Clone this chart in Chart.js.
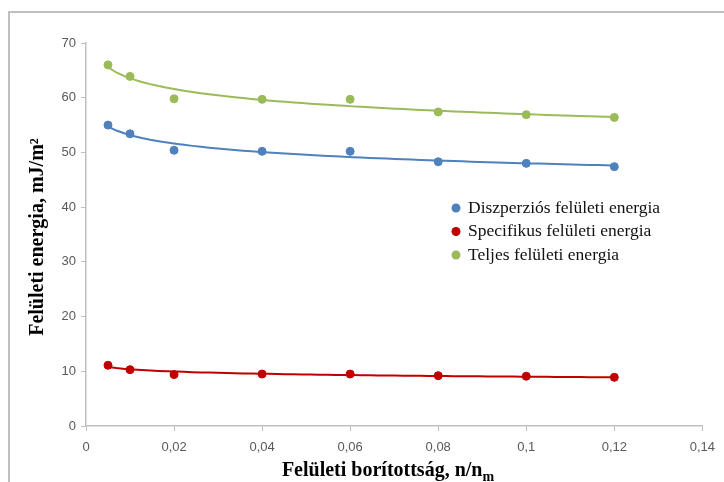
<!DOCTYPE html>
<html>
<head>
<meta charset="utf-8">
<script src="https://cdn.jsdelivr.net/npm/chart.js@4"></script>
<style>
  html, body { margin: 0; padding: 0; background: #fff; }
  #wrap { width: 724px; height: 482px; }
</style>
</head>
<body>
<div id="wrap"><canvas id="mychart"></canvas></div>
<script>
// coverage values (n/nm)
let coverage = [0.005, 0.01, 0.02, 0.04, 0.06, 0.08, 0.1, 0.12];
let dispersive = [55.0, 53.4, 50.4, 50.2, 50.2, 48.3, 48.0, 47.4];
let specific = [11.1, 10.3, 9.4, 9.5, 9.5, 9.2, 9.1, 8.9];
let total = [66.0, 63.9, 59.8, 59.7, 59.7, 57.4, 56.9, 56.4];
let seriesNames = ['Diszperziós felületi energia', 'Specifikus felületi energia', 'Teljes felületi energia'];
let seriesColors = ['#4F81BD', '#C00000', '#9BBB59'];
let xTicks = [0, 0.02, 0.04, 0.06, 0.08, 0.1, 0.12, 0.14];
let yTicks = [0, 10, 20, 30, 40, 50, 60, 70];

// logarithmic trendline (least squares on ln x), like the spreadsheet one
function logTrend(xs, ys) {
    let n = xs.length, sx = 0, sy = 0, sxx = 0, sxy = 0;
    for (let i = 0; i < n; i++) {
        let lx = Math.log(xs[i]);
        sx += lx; sy += ys[i]; sxx += lx * lx; sxy += lx * ys[i];
    }
    let a = (n * sxy - sx * sy) / (n * sxx - sx * sx);
    let b = (sy - a * sx) / n;
    let pts = [];
    let x0 = xs[0], x1 = xs[n - 1];
    for (let k = 0; k <= 60; k++) {
        let x = x0 + (x1 - x0) * k / 60;
        pts.push({ x: x, y: a * Math.log(x) + b });
    }
    return pts;
}

let allSeries = [dispersive, specific, total];
let datasets = [];
allSeries.forEach((vals, i) => {
    datasets.push({
        label: seriesNames[i],
        data: coverage.map((x, j) => ({ x: x, y: vals[j] })),
        showLine: false,
        pointRadius: 4,
        pointHoverRadius: 4,
        backgroundColor: seriesColors[i],
        borderColor: seriesColors[i],
        order: 1
    });
    datasets.push({
        label: 'trend',
        data: logTrend(coverage, vals),
        showLine: true,
        pointRadius: 0,
        borderWidth: 2,
        borderColor: seriesColors[i],
        tension: 0,
        order: 2
    });
});

let frameAndTitles = {
    id: 'frameAndTitles',
    beforeDraw(chart) {
        let c = chart.ctx;
        c.save();
        c.fillStyle = '#fff';
        c.fillRect(0, 0, chart.width, chart.height);
        c.strokeStyle = '#BFBFBF';
        c.lineWidth = 2;
        c.beginPath();
        c.moveTo(9, chart.height);
        c.lineTo(9, 12);
        c.lineTo(chart.width, 12);
        c.stroke();
        c.restore();
    },
    afterDraw(chart) {
        let c = chart.ctx;
        c.save();
        c.fillStyle = '#000';
        // y title
        c.translate(38, 237);
        c.rotate(-Math.PI / 2);
        c.font = 'bold 20px "Liberation Serif"';
        c.textAlign = 'center';
        c.textBaseline = 'middle';
        c.fillText('Felületi energia, mJ/m²', 0, 0);
        c.restore();

        // x title with subscript
        c.save();
        c.fillStyle = '#000';
        c.font = 'bold 20px "Liberation Serif"';
        let main = 'Felületi borítottság, n/n';
        let w1 = c.measureText(main).width;
        c.font = 'bold 14px "Liberation Serif"';
        let w2 = c.measureText('m').width;
        let x0 = 388 - (w1 + w2) / 2;
        c.textBaseline = 'alphabetic';
        c.font = 'bold 20px "Liberation Serif"';
        c.fillText(main, x0, 476);
        c.font = 'bold 14px "Liberation Serif"';
        c.fillText('m', x0 + w1, 481);

        // legend
        c.font = '17.5px "Liberation Serif"';
        c.textBaseline = 'middle';
        seriesNames.forEach((name, i) => {
            let y = 208 + i * 23.5;
            c.fillStyle = seriesColors[i];
            c.beginPath();
            c.arc(456, y, 4.5, 0, Math.PI * 2);
            c.fill();
            c.fillStyle = '#111';
            c.fillText(name, 468, y);
        });
        c.restore();
    }
};

let ctx = document.querySelector('#mychart').getContext('2d');
let myChart = new Chart(ctx, {
    type: 'scatter',
    data: { datasets: datasets },
    options: {
        responsive: true,
        maintainAspectRatio: false,
        animation: false,
        layout: { padding: { top: 43, right: 21, left: 0, bottom: 0 } },
        scales: {
            x: {
                type: 'linear',
                min: 0,
                max: 0.14,
                afterBuildTicks: (axis) => { axis.ticks = xTicks.map(v => ({ value: v })); },
                afterFit: (axis) => { axis.height = 56; },
                border: { color: '#BFBFBF', width: 1.5 },
                grid: { drawOnChartArea: false, drawTicks: true, tickLength: 5, color: '#BFBFBF' },
                ticks: {
                    color: '#595959',
                    font: { family: '"Liberation Sans"', size: 13 },
                    padding: 9,
                    maxRotation: 0,
                    callback: (v) => String(v).replace('.', ',')
                }
            },
            y: {
                min: 0,
                max: 70,
                afterBuildTicks: (axis) => { axis.ticks = yTicks.map(v => ({ value: v })); },
                afterFit: (axis) => { axis.width = 86; },
                border: { color: '#BFBFBF', width: 1.5 },
                grid: { drawOnChartArea: false, drawTicks: true, tickLength: 5, color: '#BFBFBF' },
                ticks: {
                    color: '#595959',
                    font: { family: '"Liberation Sans"', size: 13 },
                    padding: 5
                }
            }
        },
        plugins: {
            legend: { display: false },
            tooltip: { enabled: false }
        }
    },
    plugins: [frameAndTitles]
});
</script>
</body>
</html>
